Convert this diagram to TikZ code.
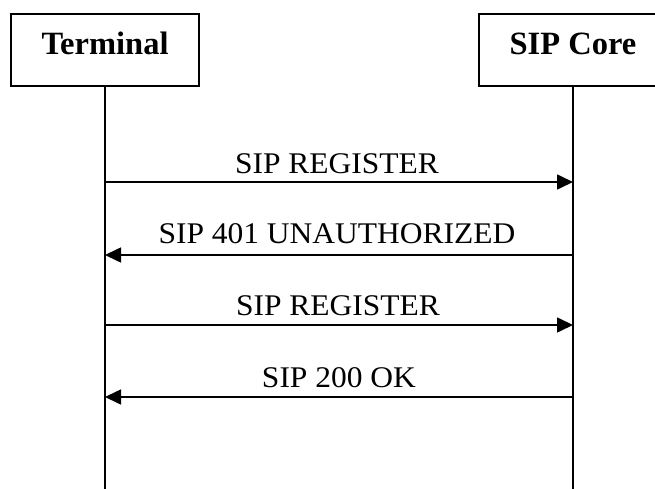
\documentclass[tikz,border=0pt]{standalone}
\usepackage{fontspec}
\setmainfont{Liberation Serif}
\newfontfamily\msgfont{Liberation Serif}[FakeStretch=1.05]
\usetikzlibrary{arrows.meta}
\tikzset{
  actorbox/.style={draw, line width=1.3pt, minimum width=188pt, minimum height=72pt, inner sep=0pt},
  actortext/.style={font=\fontsize{32.5}{36}\selectfont\bfseries, anchor=base, inner sep=0pt},
  life/.style={line width=1.3pt},
  msg/.style={line width=1.6pt, -{Triangle[length=16pt,width=15pt]}},
  msgtext/.style={font=\msgfont\fontsize{30}{34}\selectfont, anchor=base, inner sep=0pt},
}
\begin{document}
\begin{tikzpicture}[x=1pt,y=-1pt]
\useasboundingbox (0,0) rectangle (655,489);
\clip (0,0) rectangle (655,489);
\node[actorbox] (term) at (105,50) {};
\node[actortext] (termlabel) at (105,55) {Terminal};
\node[actorbox] (core) at (573,50) {};
\node[actortext] (corelabel) at (573,55) {SIP Core};
\coordinate (termend) at (105,489);
\coordinate (coreend) at (573,489);
\draw[life] (term.south) -- (termend);
\draw[life] (core.south) -- (coreend);
\coordinate (t1) at (105,182); \coordinate (c1) at (573,182);
\coordinate (t2) at (105,255); \coordinate (c2) at (573,255);
\coordinate (t3) at (105,325); \coordinate (c3) at (573,325);
\coordinate (t4) at (105,397); \coordinate (c4) at (573,397);
\draw[msg] (t1) -- (c1);
\draw[msg] (c2) -- (t2);
\draw[msg] (t3) -- (c3);
\draw[msg] (c4) -- (t4);
\node[msgtext] (m1) at (337,173) {SIP REGISTER};
\node[msgtext] (m2) at (337,243) {SIP 401 UNAUTHORIZED};
\node[msgtext] (m3) at (338,315) {SIP REGISTER};
\node[msgtext] (m4) at (339,387) {SIP 200 OK};
\end{tikzpicture}
\end{document}
